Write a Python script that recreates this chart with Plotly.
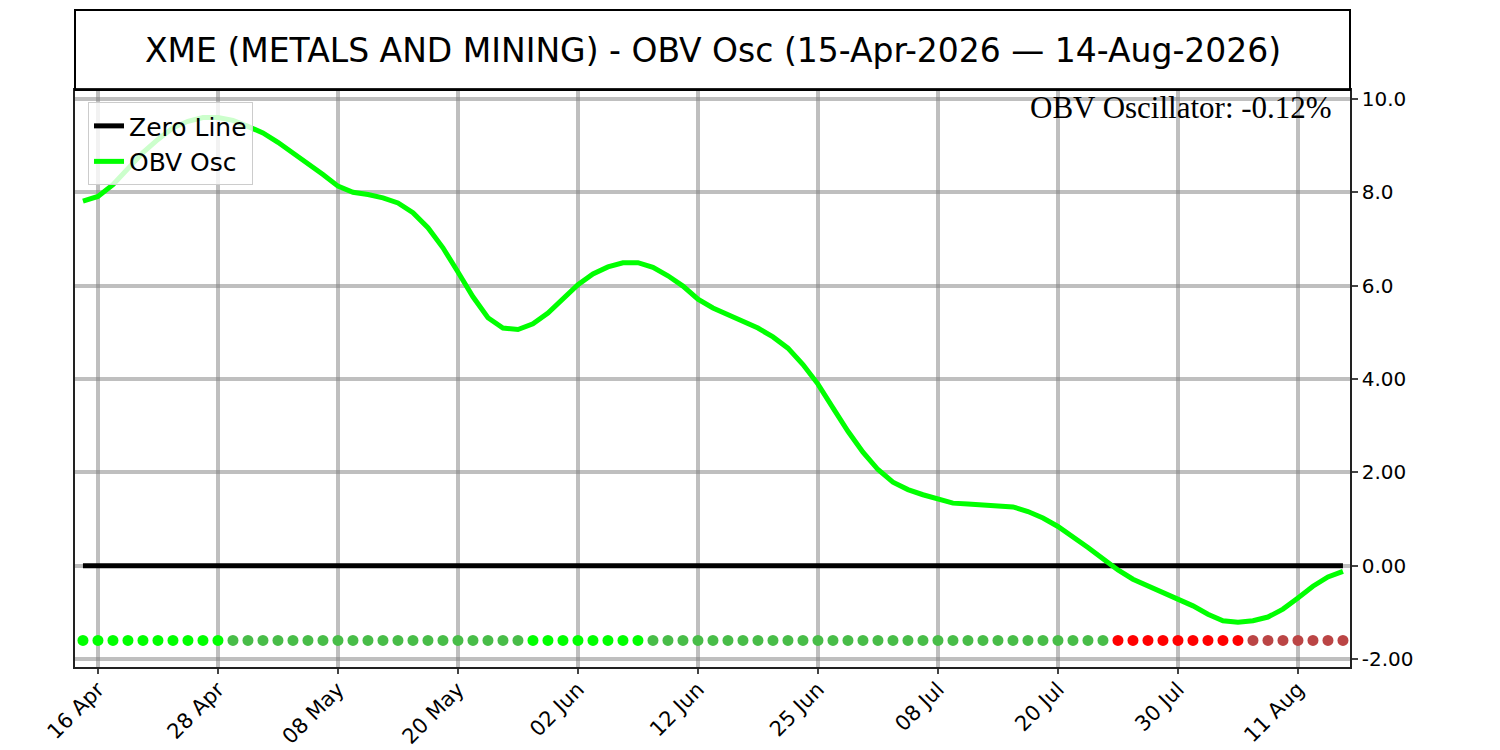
import pandas as pd
import plotly.graph_objects as go

# trading days 15-Apr-2026 .. 14-Aug-2026 (NYSE holidays skipped)
holidays = ["2026-05-25", "2026-06-19", "2026-07-03"]
days = pd.bdate_range("2026-04-15", "2026-08-14", freq="C", holidays=holidays)
dates = [d.strftime("%Y-%m-%d") for d in days]

obv_osc = [7.81, 7.91, 8.16, 8.49, 8.85, 9.13, 9.38, 9.52, 9.60, 9.60,
           9.54, 9.41, 9.27, 9.07, 8.84, 8.63, 8.38, 8.13, 8.00, 7.95,
           7.88, 7.77, 7.56, 7.24, 6.81, 6.29, 5.76, 5.31, 5.09, 5.06,
           5.18, 5.41, 5.70, 6.02, 6.25, 6.40, 6.49, 6.49, 6.39, 6.21,
           5.99, 5.71, 5.52, 5.38, 5.24, 5.09, 4.90, 4.66, 4.31, 3.89,
           3.38, 2.88, 2.43, 2.06, 1.79, 1.63, 1.52, 1.43, 1.34, 1.32,
           1.30, 1.28, 1.26, 1.16, 1.02, 0.84, 0.63, 0.39, 0.15, -0.09,
           -0.29, -0.43, -0.56, -0.70, -0.86, -1.04, -1.18, -1.21, -1.18, -1.10,
           -0.93, -0.69, -0.44, -0.24, -0.12]

# signal dots along the bottom: (state, number of days)
signal_runs = [("strong_up", 10), ("up", 20), ("strong_up", 8), ("up", 31),
               ("strong_down", 9), ("down", 7)]
signal_level = -1.6
state_colors = {"strong_up": "#00ff00", "up": "#48bd48",
                "strong_down": "#ff0000", "down": "#bb4545"}

tick_dates = ["2026-04-16", "2026-04-28", "2026-05-08", "2026-05-20", "2026-06-02",
              "2026-06-12", "2026-06-25", "2026-07-08", "2026-07-20", "2026-07-30",
              "2026-08-11"]
tick_labels = ["16 Apr", "28 Apr", "08 May", "20 May", "02 Jun", "12 Jun",
               "25 Jun", "08 Jul", "20 Jul", "30 Jul", "11 Aug"]
y_ticks = [10, 8, 6, 4, 2, 0, -2]
y_labels = ["10.0", "8.0", "6.0", "4.00", "2.00", "0.00", "-2.00"]

signal = []
for state, n in signal_runs:
    signal += [state] * n

fig = go.Figure()
fig.add_trace(go.Scatter(x=dates, y=[0] * len(dates), mode="lines",
                         name="Zero Line", line=dict(color="black", width=5)))
fig.add_trace(go.Scatter(x=dates, y=obv_osc, mode="lines",
                         name="OBV Osc", line=dict(color="#00ff00", width=5)))
fig.add_trace(go.Scatter(x=dates, y=[signal_level] * len(dates), mode="markers",
                         showlegend=False,
                         marker=dict(size=11, color=[state_colors[s] for s in signal])))

# page body adds 8px, so the figure is a bit smaller than the window
fig.update_layout(
    width=1492, height=742,
    margin=dict(l=67, r=150, t=82, b=83),
    paper_bgcolor="white", plot_bgcolor="white",
    font=dict(family="DejaVu Sans", color="black"),
    legend=dict(x=0.0102, y=0.979, xanchor="left", yanchor="top",
                bgcolor="rgba(255,255,255,0.8)", bordercolor="#cccccc",
                borderwidth=1, font=dict(size=25), itemwidth=30),
)

fig.update_xaxes(type="category", range=[-0.53, 84.47], automargin=False,
                 tickvals=tick_dates, ticktext=tick_labels, tickangle=-45,
                 tickfont=dict(size=21), ticks="outside", ticklen=5, tickwidth=1.5,
                 ticklabelstandoff=-5,
                 showgrid=True, gridcolor="rgba(128,128,128,0.5)", gridwidth=4,
                 showline=True, linecolor="#222222", linewidth=1.5, mirror=True)
fig.update_yaxes(side="right", range=[-2.17, 10.19], automargin=False,
                 tickvals=y_ticks, ticktext=y_labels,
                 tickfont=dict(size=20), ticks="outside", ticklen=6, tickwidth=1.5,
                 showgrid=True, gridcolor="rgba(128,128,128,0.5)", gridwidth=4,
                 zeroline=False,
                 showline=True, linecolor="#222222", linewidth=1.5, mirror=True)

# boxed title above the plot
fig.add_shape(type="rect", xref="paper", yref="paper", x0=0, x1=1, y0=1, y1=1.1386,
              line=dict(color="black", width=2))
fig.add_annotation(xref="paper", yref="paper", x=0.5, y=1.0693, showarrow=False,
                   xanchor="center", yanchor="middle",
                   text="XME (METALS AND MINING) - OBV Osc (15-Apr-2026 — 14-Aug-2026)",
                   font=dict(size=33, family="DejaVu Sans"))
fig.add_annotation(xref="paper", yref="paper", x=0.9875, y=0.969, xanchor="right",
                   yanchor="middle", showarrow=False,
                   text=f"OBV Oscillator: {obv_osc[-1]:.2f}%",
                   font=dict(size=31, family="Liberation Serif"))

fig.write_html("out.html")
